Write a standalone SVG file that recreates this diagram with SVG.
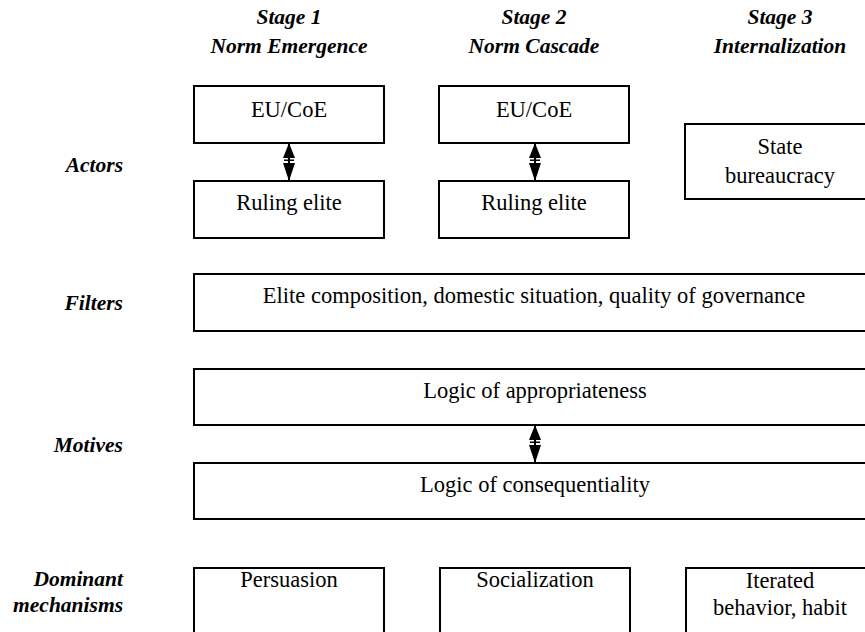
<svg xmlns="http://www.w3.org/2000/svg" width="865" height="632" viewBox="0 0 865 632">
<style>
.box{fill:#fff;stroke:#000;stroke-width:2}
.t{font-family:"Liberation Serif","Times New Roman",serif;font-size:22.5px;fill:#000;text-anchor:middle}
.h{font-family:"Liberation Serif","Times New Roman",serif;font-size:21.5px;font-weight:bold;font-style:italic;fill:#000;text-anchor:middle}
.l{font-family:"Liberation Serif","Times New Roman",serif;font-size:21.5px;font-weight:bold;font-style:italic;fill:#000;text-anchor:end}
.ah{fill:#000}
.shaft{stroke:#000;stroke-width:2}
</style>
<defs>
<g id="dbl">
<line class="shaft" x1="0" y1="0" x2="0" y2="38"/>
<polygon class="ah" points="0,0 -6,15 6,15"/>
<rect class="ah" x="-5" y="16.5" width="10" height="1.5"/>
<polygon class="ah" points="-6,20 6,20 0,38"/>
</g>
</defs>
<rect width="865" height="632" fill="#fff"/>
<g id="headers">
<text class="h" x="289" y="24">Stage 1</text>
<text class="h" x="289" y="53">Norm Emergence</text>
<text class="h" x="534" y="24">Stage 2</text>
<text class="h" x="534" y="53">Norm Cascade</text>
<text class="h" x="780" y="24">Stage 3</text>
<text class="h" x="780" y="53">Internalization</text>
</g>
<g id="row-labels">
<text class="l" x="123" y="172">Actors</text>
<text class="l" x="123" y="310">Filters</text>
<text class="l" x="123" y="452">Motives</text>
<text class="l" x="123" y="586">Dominant</text>
<text class="l" x="123" y="612">mechanisms</text>
</g>
<g id="eu1"><rect class="box" x="194" y="86" width="190" height="57"/><text class="t" x="289" y="117">EU/CoE</text></g>
<g id="elite1"><rect class="box" x="194" y="181" width="190" height="57"/><text class="t" x="289" y="210">Ruling elite</text></g>
<g id="eu2"><rect class="box" x="439" y="86" width="190" height="57"/><text class="t" x="534" y="117">EU/CoE</text></g>
<g id="elite2"><rect class="box" x="439" y="181" width="190" height="57"/><text class="t" x="534" y="210">Ruling elite</text></g>
<g id="state"><rect class="box" x="685" y="124" width="190" height="75"/><text class="t" x="780" y="154">State</text><text class="t" x="780" y="183">bureaucracy</text></g>
<g id="filters"><rect class="box" x="194" y="274" width="681" height="57"/><text class="t" x="534" y="303">Elite composition, domestic situation, quality of governance</text></g>
<g id="approp"><rect class="box" x="194" y="369" width="681" height="56"/><text class="t" x="535" y="398">Logic of appropriateness</text></g>
<g id="conseq"><rect class="box" x="194" y="463" width="681" height="56"/><text class="t" x="535" y="492">Logic of consequentiality</text></g>
<g id="persuasion"><rect class="box" x="194" y="568" width="190" height="80"/><text class="t" x="289" y="587">Persuasion</text></g>
<g id="socialization"><rect class="box" x="440" y="568" width="190" height="80"/><text class="t" x="535" y="587">Socialization</text></g>
<g id="iterated"><rect class="box" x="686" y="568" width="190" height="80"/><text class="t" x="780" y="588">Iterated</text><text class="t" x="780" y="615">behavior, habit</text></g>
<g id="connectors">
<use href="#dbl" x="289" y="143"/>
<use href="#dbl" x="535" y="143"/>
<use href="#dbl" x="535" y="425"/>
</g>
</svg>
